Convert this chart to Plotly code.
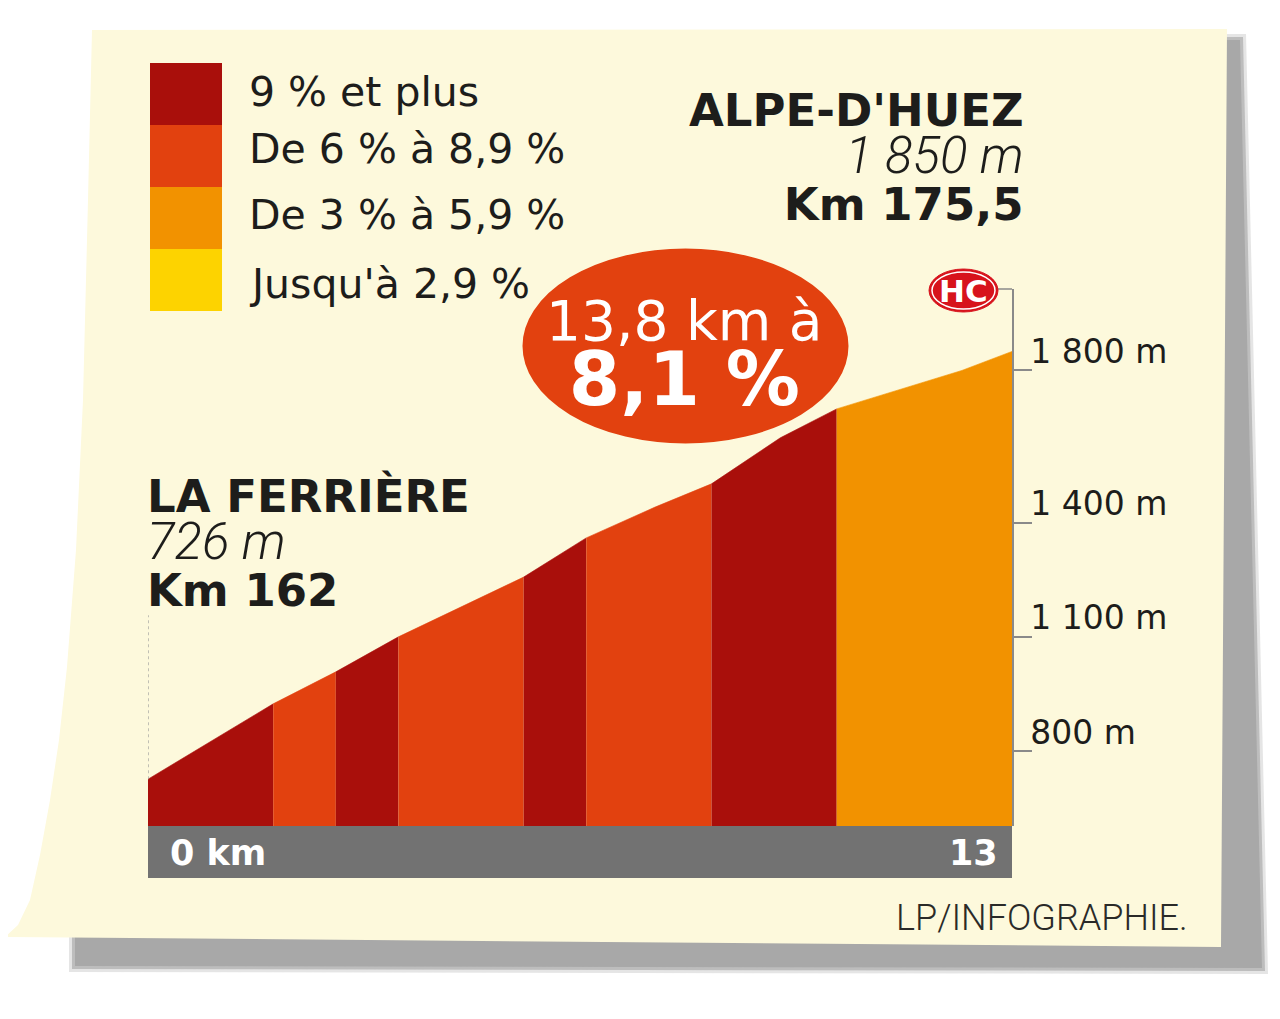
import plotly.graph_objects as go

# browser body margin is 8 px: figure is sized to fill the rest of the window
OFF = 8
W, H = 1280 - OFF, 1019 - OFF

# ---------------- data ----------------
km = [0, 2, 3, 4, 6, 7, 8.1, 9, 10.1, 11, 13, 13.8]
elev = [726, 924, 1008, 1100, 1257, 1360, 1441, 1502, 1623, 1699, 1800, 1850]
seg_edges = [0, 2, 3, 4, 6, 7, 9, 11, 13.8]
seg_class = [0, 1, 0, 1, 0, 1, 0, 2]
class_labels = ["9 % et plus", "De 6 % à 8,9 %", "De 3 % à 5,9 %", "Jusqu'à 2,9 %"]
class_colors = ["#A90F0B", "#E2410F", "#F29200", "#FDD300"]
ytick_vals = [800, 1100, 1400, 1800]
ytick_text = ["800 m", "1 100 m", "1 400 m", "1 800 m"]
x_labels = ["0 km", "13"]
start_info = ["LA FERRIÈRE", "726 m", "Km 162"]
finish_info = ["ALPE-D'HUEZ", "1 850 m", "Km 175,5"]
bubble_text = ["13,8 km à", "8,1 %"]
category = "HC"
source = "LP/INFOGRAPHIE."

# ---------------- styling ----------------
CREAM = "#FDF9DC"
TEXT = "#1D1D1B"
GRAY_BAR = "#727272"
AXIS_GRAY = "#8A8A8A"
Y_RANGE = [603, 2014]
X_RANGE = [0, 13.8]
PLOT_L, PLOT_R, PLOT_T, PLOT_B = 148, 1012, 289, 826
BOLD = "DejaVu Sans"
REG = "DejaVu Sans"
LIGHT_IT = "font-family:Roboto;font-weight:300;font-style:italic"


def px(x):
    return (x - OFF) / W


def py(y):
    return 1 - (y - OFF) / H


def path(points):
    s = "M " + " L ".join(f"{px(x):.5f},{py(y):.5f}" for x, y in points)
    return s + " Z"


fig = go.Figure()

# profile segments
for i, cls in enumerate(seg_class):
    x0, x1 = seg_edges[i], seg_edges[i + 1]
    xs = [k for k in km if x0 <= k <= x1]
    ys = [e for k, e in zip(km, elev) if x0 <= k <= x1]
    fig.add_trace(go.Scatter(
        x=xs, y=ys, mode="lines", fill="tozeroy",
        fillcolor=class_colors[cls], line=dict(width=0.6, color=class_colors[cls]),
        hoverinfo="skip", showlegend=False,
    ))

shapes = []
# shadow (soft)
for grow, col in [(6, "rgba(150,150,150,0.25)"), (3, "rgba(150,150,150,0.5)"), (0, "#A8A8A8")]:
    pts = [(150, 44 - grow), (1240 + grow, 40 - grow), (1262 + grow, 968 + grow),
           (75 - grow, 966 + grow), (75 - grow, 900)]
    shapes.append(dict(type="path", xref="paper", yref="paper", path=path(pts),
                       fillcolor=col, line=dict(width=0), layer="below"))
# cream paper
paper_pts = [(92, 30), (1227, 29), (1221, 947), (5, 937), (18, 925), (30, 900), (40, 855),
             (50, 800), (59, 740), (67, 667), (76, 550), (83, 400), (88, 200)]
shapes.append(dict(type="path", xref="paper", yref="paper", path=path(paper_pts),
                   fillcolor=CREAM, line=dict(width=0), layer="below"))

# legend blocks
blk_top, blk_h = 63, 62
for i, col in enumerate(class_colors):
    shapes.append(dict(type="rect", xref="paper", yref="paper",
                       x0=px(150), x1=px(222), y0=py(blk_top + i * blk_h), y1=py(blk_top + (i + 1) * blk_h),
                       fillcolor=col, line=dict(width=0), layer="below"))

# gray km bar
shapes.append(dict(type="rect", xref="paper", yref="paper",
                   x0=px(PLOT_L), x1=px(PLOT_R), y0=py(PLOT_B), y1=py(878),
                   fillcolor=GRAY_BAR, line=dict(width=0), layer="above"))

# dotted leader line at start
shapes.append(dict(type="line", xref="x", yref="y", x0=km[0], x1=km[0], y0=elev[0], y1=1157,
                   line=dict(color="#9A9A9A", width=1.2, dash="dot"), layer="above"))

# bubble
shapes.append(dict(type="circle", xref="paper", yref="paper",
                   x0=px(521), x1=px(850), y0=py(247), y1=py(445),
                   fillcolor="#E2410F", line=dict(color=CREAM, width=3), layer="above"))

# HC badge and its leader
shapes.append(dict(type="line", xref="paper", yref="paper", x0=px(996), x1=px(PLOT_R),
                   y0=py(PLOT_T), y1=py(PLOT_T), line=dict(color=AXIS_GRAY, width=1.5), layer="above"))
shapes.append(dict(type="circle", xref="paper", yref="paper",
                   x0=px(929), x1=px(998), y0=py(269), y1=py(312),
                   fillcolor="#D7131C", line=dict(color="#D7131C", width=1), layer="above"))
shapes.append(dict(type="circle", xref="paper", yref="paper",
                   x0=px(932), x1=px(995), y0=py(272), y1=py(309),
                   fillcolor="#D7131C", line=dict(color="white", width=1.5), layer="above"))

annotations = []


def ann(text, x, y, size, anchor="left", family=REG, color=TEXT, weight=None, style=None):
    f = dict(family=family, size=size, color=color)
    if weight is not None:
        f["weight"] = weight
    if style is not None:
        f["style"] = style
    annotations.append(dict(text=text, x=px(x), y=py(y), xref="paper", yref="paper",
                            xanchor=anchor, yanchor="middle", align=anchor if anchor != "center" else "center",
                            showarrow=False, font=f))


def place_block(info):
    return (f"<b><span style='font-size:45px'>{info[0]}</span></b><br>"
            f"<span style=\"{LIGHT_IT};font-size:51px\">{info[1]}</span><br>"
            f"<b><span style='font-size:45px'>{info[2]}</span></b>")


# legend labels
legend_y = [92, 149, 215, 284]
for lbl, yy in zip(class_labels, legend_y):
    ann(lbl, 247, yy, 41)

# finish / start labels (line pitch set by base size 36 -> 47 px)
ann(place_block(finish_info), 1026, 157, 36, anchor="right", family=BOLD)
ann(place_block(start_info), 145, 543, 36, anchor="left", family=BOLD)

# bubble text (line pitch 50 -> 65 px)
ann(f"<span style='font-size:55px'>{bubble_text[0]}</span><br>"
    f"<b><span style='font-size:74px'>{bubble_text[1]}</span></b>",
    684, 355, 50, anchor="center", color="white")

# HC text
ann(f"<b>{category}</b>", 963, 291, 31, anchor="center", color="white", family=BOLD)

# km bar labels
ann(f"<b>{x_labels[0]}</b>", 168, 853, 35, color="white", family=BOLD)
ann(f"<b>{x_labels[1]}</b>", 1000, 853, 35, anchor="right", color="white", family=BOLD)

# source
ann(source, 1190, 918, 36, anchor="right", family="Roboto", weight=300, color="#2A2A28")

fig.update_layout(
    width=W, height=H, autosize=False,
    margin=dict(l=0, r=0, t=0, b=0, pad=0),
    paper_bgcolor="white", plot_bgcolor="rgba(0,0,0,0)",
    showlegend=False,
    shapes=shapes, annotations=annotations,
    xaxis=dict(domain=[px(PLOT_L), px(PLOT_R)], range=X_RANGE, visible=False, fixedrange=True),
    yaxis=dict(domain=[py(PLOT_B), py(PLOT_T)], range=Y_RANGE, side="right",
               showline=True, linecolor=AXIS_GRAY, linewidth=1.5,
               ticks="outside", ticklen=18, tickwidth=1.5, tickcolor=AXIS_GRAY,
               tickvals=ytick_vals, ticktext=ytick_text, ticklabelshift=-19,
               ticklabelstandoff=-8,
               tickfont=dict(family=REG, size=33, color=TEXT),
               showgrid=False, zeroline=False, fixedrange=True),
)

fig.write_html("out.html")
